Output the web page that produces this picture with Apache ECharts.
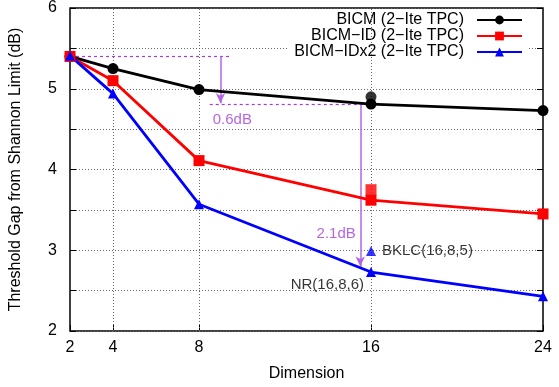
<!DOCTYPE html>
<html>
<head>
<meta charset="utf-8">
<script src="https://cdn.jsdelivr.net/npm/echarts@6/dist/echarts.min.js"></script>
<style>
  html, body { margin: 0; padding: 0; background: #fff; }
  #chart { width: 559px; height: 387px; }
</style>
</head>
<body>
<div id="chart"></div>
<script>
const dims = [2, 4, 8, 16, 24];
const bicm = [5.40, 5.25, 4.99, 4.81, 4.73];
const bicmId = [5.40, 5.10, 4.11, 3.62, 3.45];
const bicmIdx2 = [5.41, 4.94, 3.57, 2.73, 2.43];
// extra single points at dimension 16
const extraBicm = [[16, 4.90]];
const extraBicmId = [[16, 3.75]];
const bklc = [[16, 2.99]];
const xGrid = [4, 8, 16];
// annotation geometry (data units)
const dashLines = [[[2, 5.40], [9.5, 5.40]], [[8.5, 4.81], [16, 4.81]]];
const arrows = [[[9.0, 5.40], [9.0, 4.82]], [[15.5, 4.81], [15.5, 2.80]]];
const notes = [{ value: [9.55, 4.61], text: '0.6dB' }, { value: [14.38, 3.2], text: '2.1dB' }];

const FONT = 'Liberation Sans';
const purple = '#a23fdc';

const chart = echarts.init(document.getElementById('chart'), null, { renderer: 'canvas' });

const lineSeries = (name, data, color, symbol, size) => ({
  name,
  type: 'line',
  data: dims.map((d, i) => [d, data[i]]),
  symbol,
  symbolSize: size,
  itemStyle: { color },
  lineStyle: { color, width: 2.8 },
  z: 5,
});

chart.setOption({
  animation: false,
  textStyle: { fontFamily: FONT },
  grid: { left: 67, right: 16, top: 6, bottom: 54, show: true, borderColor: '#000', borderWidth: 1.5 },
  legend: {
    orient: 'vertical',
    right: 30,
    top: 10,
    align: 'right',
    itemWidth: 45,
    itemHeight: 11,
    itemGap: 0,
    padding: [2, 6, 2, 6],
    backgroundColor: '#fff',
    textStyle: { fontSize: 16, color: '#000', fontFamily: FONT, padding: [0, 8, 0, 0] },
    data: ['BICM (2\u2212Ite TPC)', 'BICM\u2212ID (2\u2212Ite TPC)', 'BICM\u2212IDx2 (2\u2212Ite TPC)'],
  },
  xAxis: {
    type: 'value',
    min: 2,
    max: 24,
    name: 'Dimension',
    nameLocation: 'middle',
    nameGap: 35,
    nameTextStyle: { fontSize: 16, color: '#000' },
    axisLine: { show: false },
    axisTick: { show: true, inside: true, length: 6, customValues: dims, lineStyle: { color: '#000' } },
    axisLabel: { customValues: dims, fontSize: 16, color: '#000', margin: 9 },
    splitLine: { show: false },
  },
  yAxis: [{
    type: 'value',
    min: 2,
    max: 6,
    interval: 0.5,
    name: 'Threshold Gap from Shannon Limit (dB)',
    nameLocation: 'middle',
    nameGap: 46,
    nameTextStyle: { fontSize: 16, color: '#000' },
    axisLine: { show: false },
    axisTick: { show: true, inside: true, length: 6, lineStyle: { color: '#000' } },
    axisLabel: { fontSize: 16, color: '#000', margin: 13, formatter: v => (v % 1 === 0 ? String(v) : '') },
    splitLine: { show: true, lineStyle: { color: '#666', type: [1, 2], width: 1 } },
  }, {
    type: 'value',
    min: 2,
    max: 6,
    interval: 0.5,
    position: 'right',
    axisLine: { show: false },
    axisTick: { show: true, inside: true, length: 6, lineStyle: { color: '#000' } },
    axisLabel: { show: false },
    splitLine: { show: false },
  }],
  series: [
    {
      type: 'line',
      data: [],
      silent: true,
      z: 1,
      markLine: {
        silent: true,
        symbol: 'none',
        label: { show: false },
        lineStyle: { color: '#666', type: [1, 2], width: 1 },
        data: xGrid.map(x => ({ xAxis: x })),
      },
    },
    lineSeries('BICM (2\u2212Ite TPC)', bicm, '#000', 'circle', 11),
    lineSeries('BICM\u2212ID (2\u2212Ite TPC)', bicmId, '#f00', 'rect', 11),
    lineSeries('BICM\u2212IDx2 (2\u2212Ite TPC)', bicmIdx2, '#00f', 'triangle', 10),
    { type: 'scatter', data: extraBicm, symbol: 'circle', symbolSize: 11, itemStyle: { color: '#000' }, z: 6 },
    { type: 'scatter', data: extraBicmId, symbol: 'rect', symbolSize: 11, itemStyle: { color: '#f00' }, z: 6 },
    {
      type: 'scatter',
      data: bklc,
      symbol: 'triangle',
      symbolSize: 10,
      itemStyle: { color: '#00f' },
      z: 6,
      label: { show: true, position: 'right', distance: 6, formatter: 'BKLC(16,8,5)', fontSize: 15, color: '#000' },
    },
    {
      type: 'scatter',
      data: [[dims[3], bicmIdx2[3]]],
      symbolSize: 0,
      z: 6,
      label: { show: true, position: 'left', offset: [-2, 13], formatter: 'NR(16,8,6)', fontSize: 15, color: '#000' },
    },
    {
      type: 'line',
      data: [],
      z: 4,
      markLine: {
        silent: true,
        animation: false,
        label: { show: false },
        data: [
          ...dashLines.map(seg => [
            { coord: seg[0], symbol: 'none', lineStyle: { color: purple, type: [3, 3], width: 1.2 } },
            { coord: seg[1], symbol: 'none' },
          ]),
          ...arrows.map(seg => [
            { coord: seg[0], symbol: 'none', lineStyle: { color: '#b565e3', type: 'solid', width: 1.5 } },
            { coord: seg[1], symbol: 'arrow', symbolSize: [7, 10] },
          ]),
        ],
      },
    },
    {
      type: 'scatter',
      data: notes.map(n => ({ value: n.value, name: n.text })),
      symbolSize: 0,
      z: 6,
      label: { show: true, position: 'inside', formatter: p => p.name, fontSize: 15, color: purple },
    },
  ],
});
</script>
</body>
</html>
